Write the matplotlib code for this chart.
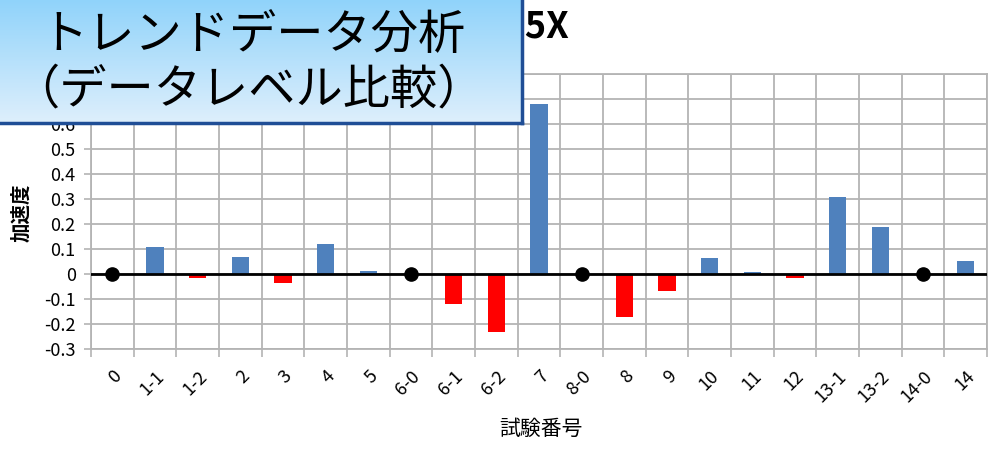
import matplotlib.pyplot as plt
import numpy as np

plt.rcParams['font.family'] = ['Noto Sans CJK JP', 'DejaVu Sans']

# test numbers and measured acceleration
categories = ['0', '1-1', '1-2', '2', '3', '4', '5', '6-0', '6-1', '6-2', '7',
              '8-0', '8', '9', '10', '11', '12', '13-1', '13-2', '14-0', '14']
values = [0.0, 0.11, -0.015, 0.07, -0.035, 0.12, 0.015, 0.0, -0.12, -0.23, 0.68,
          0.0, -0.17, -0.067, 0.066, 0.01, -0.015, 0.31, 0.19, 0.0, 0.055]
# reference (baseline) tests drawn as black dots
ref_tests = ['0', '6-0', '8-0', '14-0']
y_ticks = [-0.3, -0.2, -0.1, 0, 0.1, 0.2, 0.3, 0.4, 0.5, 0.6, 0.7, 0.8]

W, H = 997, 466
fig = plt.figure(figsize=(W / 100, H / 100), dpi=100)
ax = fig.add_axes([91 / W, 1 - 349.3 / H, (987 - 91) / W, (349.3 - 74.3) / H])

x = np.arange(len(categories))
vals = np.array(values)
is_ref = np.array([c in ref_tests for c in categories])
colors = ['#4f81bd' if v >= 0 else '#ff0000' for v in vals]
bar_x = x[~is_ref]
ax.bar(bar_x, vals[~is_ref], width=0.4, color=np.array(colors)[~is_ref],
       zorder=3)
ax.plot(x[is_ref], vals[is_ref], 'o', color='black', markersize=9.5,
        zorder=5, clip_on=False)
ax.axhline(0, color='black', lw=2, zorder=4)

ax.set_xlim(-0.5, len(categories) - 0.5)
ax.set_ylim(-0.3, 0.8)
ax.set_yticks(y_ticks, [f'{t:g}' for t in y_ticks])
ax.set_xticks(x, categories, rotation=45, ha='right', rotation_mode='anchor')
ax.set_xticks(np.arange(-0.5, len(categories)), minor=True)

ax.grid(axis='y', which='major', color='#b4b4b4', lw=1.3, zorder=0)
ax.grid(axis='x', which='minor', color='#b4b4b4', lw=1.3, zorder=0)
ax.tick_params(axis='y', length=5, width=1.2, color='#b4b4b4', labelsize=13,
               pad=6)
ax.tick_params(axis='x', which='major', length=0, labelsize=13, pad=13)
ax.tick_params(axis='x', which='minor', length=6, width=1.2, color='#b4b4b4')
for s in ax.spines.values():
    s.set_color('#b4b4b4')
    s.set_linewidth(1.3)

fig.text(22 / W, 1 - 213 / H, '加速度', rotation=90, ha='center', va='center',
         fontsize=14, fontweight='bold')
fig.text(541 / W, 1 - 429 / H, '試験番号', ha='center', va='center', fontsize=15)
fig.text(569 / W, 1 - 27 / H, 'G5X', ha='right', va='center', fontsize=26,
         fontweight='bold')

# overlay callout box with gradient (drawn above the chart title)
bx = fig.add_axes([-5 / W, 1 - 123 / H, 527 / W, 128 / H])
bx.set_zorder(10)
grad = np.linspace(0, 1, 256).reshape(-1, 1)
top = np.array([141, 210, 250]) / 255
bot = np.array([222, 239, 252]) / 255
img = top + (bot - top) * grad[..., None]
bx.imshow(img.reshape(256, 1, 3), aspect='auto', extent=[0, 1, 0, 1])
bx.set_xticks([])
bx.set_yticks([])
for s in bx.spines.values():
    s.set_color('#1f4e96')
    s.set_linewidth(2.5)
bx.text(0.49, 0.68, 'トレンドデータ分析', transform=bx.transAxes, ha='center',
        va='center', fontsize=34)
bx.text(0.48, 0.26, '（データレベル比較）', transform=bx.transAxes, ha='center',
        va='center', fontsize=34)

fig.savefig('out.png', dpi=100)
